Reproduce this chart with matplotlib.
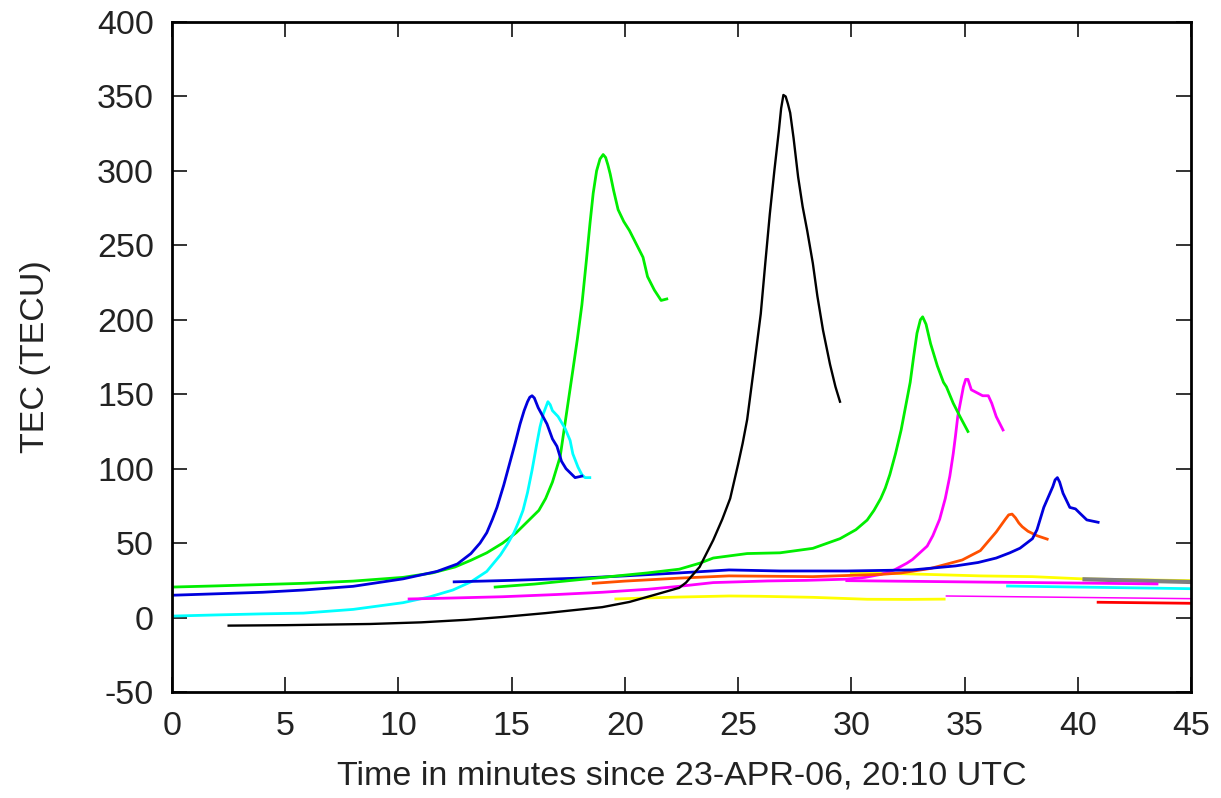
import numpy as np
import matplotlib.pyplot as plt

# TEC curves (time in min, TEC in TECU)
green_a_t = [0, 2, 4, 5.8, 8, 10.2, 11.5, 12.5, 13.2, 13.9, 14.6, 15.2, 15.8, 16.2, 16.5, 16.8, 17.14, 17.4,
             17.7, 17.9, 18.1, 18.3, 18.46, 18.6, 18.75, 18.9, 19.04, 19.15, 19.25, 19.35, 19.5, 19.7,
             19.95, 20.2, 20.5, 20.8, 21.0, 21.3, 21.6, 21.85]
green_a_v = [20.5, 21.3, 22.2, 23, 24.5, 27, 30, 34, 38.5, 43.5, 50, 57, 66, 72, 80, 91, 108, 135,
             166, 187, 210, 240, 265, 285, 300, 308, 311, 309, 304, 298, 287, 274,
             266, 260, 251, 242, 229, 220, 213, 214]

blue_a_t = [0, 2, 4, 5.8, 8, 10.2, 11.7, 12.6, 13.2, 13.6, 13.9, 14.15, 14.35, 14.65, 14.9, 15.15, 15.37,
            15.55, 15.7, 15.8, 15.9, 16.0, 16.17, 16.56, 16.8, 17.0, 17.2, 17.4, 17.6, 17.8, 18.1]
blue_a_v = [15, 16, 17, 18.5, 21, 26, 31, 36, 43, 50, 57, 66, 74, 89, 103, 117, 130,
            139, 145, 148, 149, 147.5, 141, 130, 120, 115, 105, 100, 97, 94, 95]

cyan_a_t = [0, 2, 4, 5.8, 8, 10.2, 11.4, 12.4, 13.2, 13.9, 14.5, 14.8, 15.1, 15.3, 15.5, 15.7, 15.9,
            16.1, 16.25, 16.4, 16.5, 16.6, 16.7, 16.8, 17.05, 17.36, 17.58, 17.7, 17.93, 18.1, 18.24, 18.45]
cyan_a_v = [1, 1.8, 2.5, 3, 5.5, 10, 14, 18.5, 24, 31, 42, 49, 57, 64, 72, 84, 99,
            116, 128, 137, 141, 145, 143, 139, 135, 127, 119, 110, 101, 96, 94, 94]

black_t = [2.5, 5, 8.75, 11, 13, 14.6, 16.5, 19, 20.2, 21.25, 22.4, 22.7, 23.3, 23.9, 24.3, 24.65, 25.0,
           25.2, 25.4, 25.7, 26.0, 26.2, 26.4, 26.6, 26.8, 26.9, 27.0, 27.1, 27.2, 27.3, 27.45, 27.65,
           27.85, 28.05, 28.3, 28.5, 28.75, 29.06, 29.3, 29.5]
black_v = [-5.4, -5.1, -4.3, -3.2, -1.5, 0.4, 3, 7, 10.5, 15, 20, 23.5, 34, 52, 66, 80, 103,
           117, 133, 168, 204, 238, 271, 300, 327, 342, 351, 350, 345, 339, 322, 296,
           276, 260, 238, 216, 193, 170, 155, 145]

green_b_t = [14.27, 16, 17, 19, 21, 22.4, 23.3, 23.9, 25.4, 26.85, 28.3, 29.5, 30.2, 30.7, 31.0, 31.3,
             31.5, 31.7, 31.95, 32.2, 32.4, 32.6, 32.75, 32.9, 33.05, 33.15, 33.3, 33.5, 33.8, 34.07,
             34.2, 34.5, 34.8, 35.15]
green_b_v = [20.5, 22.5, 24, 27, 30, 32.5, 36.5, 40, 43, 43.5, 46.5, 53, 59, 65.5, 72, 80,
             87, 96, 110, 126, 142, 158, 175, 191, 200, 202, 197, 184, 169, 158,
             155, 144, 135, 125]

magenta_a_t = [10.47, 12, 14.6, 17, 19, 21, 22.4, 23.9, 26.3, 28, 29.8, 30.6, 31.3, 31.9, 32.45, 32.7,
               33.35, 33.6, 33.9, 34.15, 34.35, 34.5, 34.6, 34.7, 34.85, 34.95, 35.05, 35.15, 35.3,
               35.55, 35.8, 36.05, 36.2, 36.4, 36.7]
magenta_a_v = [12.5, 13, 14, 15.5, 17, 19, 21, 23.5, 24.6, 25, 25.8, 27, 29, 32, 36.5, 39,
               48, 55, 66, 80, 95, 110, 122, 135, 147, 155, 160, 160, 153,
               151, 149, 149, 144, 135, 126]

magenta_c_t = [29.8, 33, 36, 40, 43.5]
magenta_c_v = [24.8, 24.3, 23.8, 23.2, 22.6]

blue_b_t = [12.46, 15, 18, 20, 22.4, 24.6, 26.85, 29.8, 32.7, 34.6, 35.6, 36.4, 37.0, 37.45, 38.0, 38.2,
            38.5, 38.9, 39.0, 39.1, 39.2, 39.35, 39.65, 39.9, 40.1, 40.4, 40.9]
blue_b_v = [24, 25, 26.5, 28, 30, 32, 31.3, 31.3, 32, 34.7, 37, 40, 43.5, 46.6, 53, 59,
            74, 88, 92.5, 94, 91, 83.5, 74, 73, 70, 65.6, 64]

orange_t = [18.6, 20, 22.4, 24.6, 28.3, 31.3, 32.2, 33.5, 34.9, 35.7, 36.4, 36.8, 36.95, 37.1, 37.25,
            37.4, 37.55, 37.8, 38.2, 38.65]
orange_v = [23, 24.5, 26.5, 28, 27.5, 29, 30, 33, 38.7, 45, 57.5, 66, 69, 69.5, 67,
            63.5, 61, 58, 55, 52.7]

yellow_a_t = [30.0, 32.2, 35.7, 38.0, 40.2, 45]
yellow_a_v = [30, 29.5, 28, 27.5, 26, 24.8]

yellow_b_t = [19.6, 21, 22.4, 24.6, 26, 28.3, 30.7, 32.5, 34.1]
yellow_b_v = [12.5, 13.2, 13.8, 14.5, 14.3, 13.6, 12.3, 12.2, 12.4]

cyan_b_t = [36.9, 45]
cyan_b_v = [21.2, 19.4]
magenta_thin_t = [34.2, 45]
magenta_thin_v = [14.5, 12.7]
grey_t = [40.3, 45]
grey_v = [25.7, 23.9]
red_t = [40.9, 45]
red_v = [10.3, 9.6]

plt.rcParams['font.family'] = ['Liberation Sans', 'DejaVu Sans']
plt.rcParams['axes.unicode_minus'] = False
txt = '#222222'

fig = plt.figure(figsize=(12.21, 7.98), dpi=100)
ax = fig.add_axes([0.1409, 0.1328, 0.8345, 0.8396])

lw = 2.0
ax.plot(yellow_b_t, yellow_b_v, c='#ffff00', lw=lw)
ax.plot(yellow_a_t, yellow_a_v, c='#ffff00', lw=lw)
ax.plot(grey_t, grey_v, c='#808080', lw=3)
ax.plot(magenta_c_t, magenta_c_v, c='#ff00ff', lw=lw)
ax.plot(magenta_thin_t, magenta_thin_v, c='#ff00ff', lw=1.1)
ax.plot(cyan_b_t, cyan_b_v, c='#00ffff', lw=lw)
ax.plot(red_t, red_v, c='#ff0000', lw=lw)
ax.plot(green_a_t, green_a_v, c='#00ee00', lw=lw)
ax.plot(cyan_a_t, cyan_a_v, c='#00ffff', lw=lw)
ax.plot(blue_a_t, blue_a_v, c='#0000dd', lw=lw)
ax.plot(magenta_a_t, magenta_a_v, c='#ff00ff', lw=lw)
ax.plot(orange_t, orange_v, c='#ff5000', lw=lw)
ax.plot(blue_b_t, blue_b_v, c='#0000dd', lw=lw)
ax.plot(green_b_t, green_b_v, c='#00ee00', lw=lw)
ax.plot(black_t, black_v, c='black', lw=1.7)

ax.set_xlim(0, 45)
ax.set_ylim(-50, 400)
ax.set_xticks(np.arange(0, 46, 5))
ax.set_yticks(np.arange(-50, 401, 50))
ax.tick_params(direction='in', length=10.5, width=1.4, top=True, right=True,
               labelsize=24.5, labelcolor=txt, color='#333333')
ax.tick_params(axis='x', pad=14)
ax.tick_params(axis='y', pad=13)
for s in ax.spines.values():
    s.set_linewidth(2.0)

ax.set_xlabel('Time in minutes since 23-APR-06, 20:10 UTC', fontsize=24.5, color=txt, labelpad=13)
ax.set_ylabel('TEC (TECU)', fontsize=24.5, color=txt, labelpad=33)

fig.savefig('out.png', dpi=100)
